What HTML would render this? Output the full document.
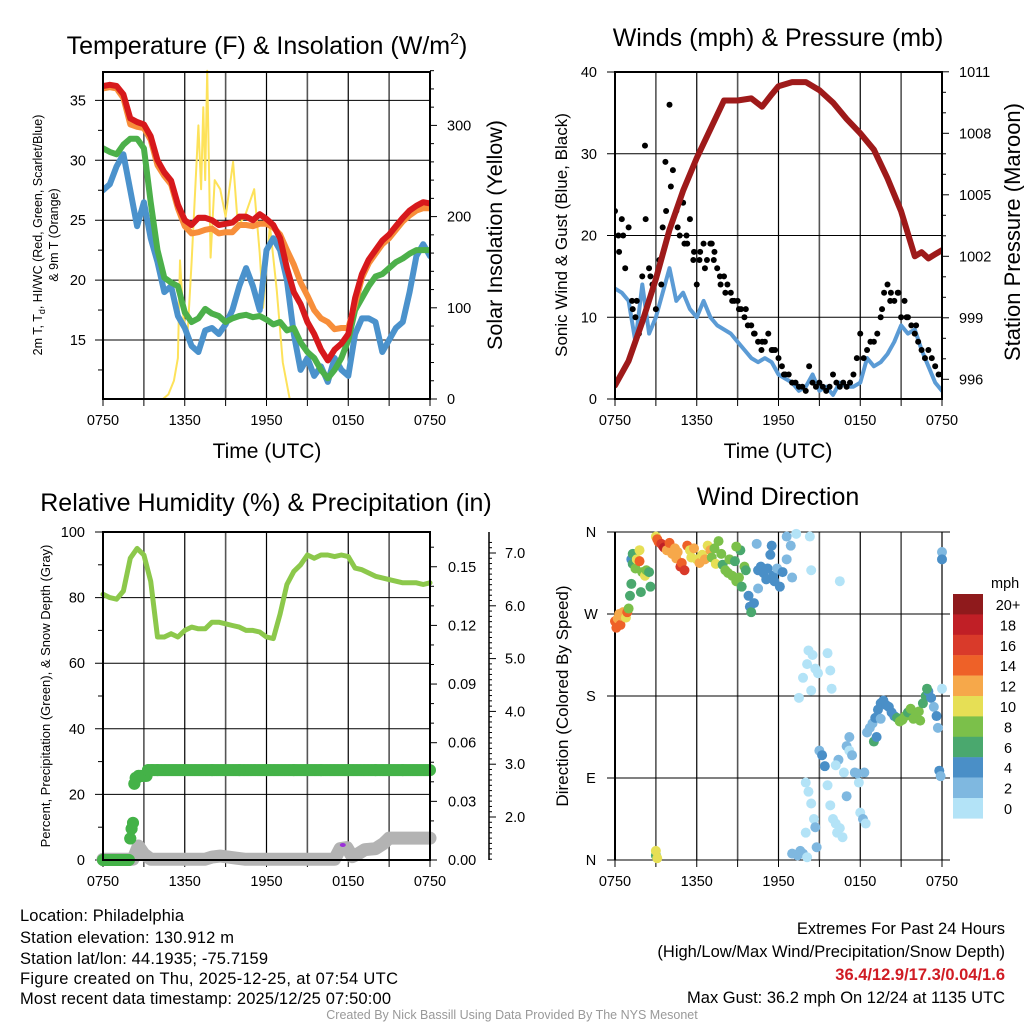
<!DOCTYPE html>
<html><head><meta charset="utf-8"><style>
html,body{margin:0;padding:0;background:#fff;}
svg{display:block;font-family:"Liberation Sans",Arial,sans-serif;}
</style></head><body>
<svg id="chart" width="1024" height="1024" viewBox="0 0 1024 1024" xmlns="http://www.w3.org/2000/svg">
<defs>
<clipPath id="c1"><rect x="103" y="60" width="327" height="339"/></clipPath>
<clipPath id="c2"><rect x="615" y="72" width="327" height="327"/></clipPath>
<clipPath id="c3"><rect x="90" y="532" width="352" height="340"/></clipPath>
</defs>
<g id="g1"></g>
<g id="g2"></g>
<g id="g3"></g>
<g id="g4"></g>
<g font-size="25" text-anchor="middle" fill="#000">
<text x="267" y="54">Temperature (F) &amp; Insolation (W/m<tspan dy="-10" font-size="16">2</tspan><tspan dy="10">)</tspan></text>
<text x="778" y="46">Winds (mph) &amp; Pressure (mb)</text>
<text x="266" y="511">Relative Humidity (%) &amp; Precipitation (in)</text>
<text x="778" y="505">Wind Direction</text>
</g>
<g font-size="16.5" fill="#000">
<text x="20" y="921" textLength="164">Location: Philadelphia</text>
<text x="20" y="943" textLength="214">Station elevation: 130.912 m</text>
<text x="20" y="964" textLength="248">Station lat/lon: 44.1935; -75.7159</text>
<text x="20" y="984" textLength="378">Figure created on Thu, 2025-12-25, at 07:54 UTC</text>
<text x="20" y="1004" textLength="371">Most recent data timestamp: 2025/12/25 07:50:00</text>
</g>
<g font-size="16.5" fill="#000" text-anchor="end">
<text x="1005" y="934">Extremes For Past 24 Hours</text>
<text x="1005" y="957">(High/Low/Max Wind/Precipitation/Snow Depth)</text>
<text x="1005" y="980" fill="#d01c24" font-weight="bold">36.4/12.9/17.3/0.04/1.6</text>
<text x="1005" y="1003">Max Gust: 36.2 mph On 12/24 at 1135 UTC</text>
</g>
<text x="512" y="1019" font-size="12.5" fill="#999" text-anchor="middle">Created By Nick Bassill Using Data Provided By The NYS Mesonet</text>
</svg>
<script>
// ---- data ----
const halfHours = [0,0.5,1,1.5,2,2.5,3,3.5,4,4.5,5,5.5,6,6.5,7,7.5,8,8.5,9,9.5,10,10.5,11,11.5,12,12.5,13,13.5,14,14.5,15,15.5,16,16.5,17,17.5,18,18.5,19,19.5,20,20.5,21,21.5,22,22.5,23,23.5,24];
const xTickLabels = ["0750","1350","1950","0150","0750"];
const tempRed = [36.2,36.3,36.2,35.5,33.5,33.2,33.0,32.0,30.0,29.0,28.3,26.3,25.0,24.6,25.2,25.2,25.0,24.6,24.7,24.8,25.3,25.3,25.0,25.5,25.1,24.6,23.5,21.0,19.0,18.0,16.5,15.5,14.2,13.3,14.2,14.7,15.5,18.5,20.5,21.7,22.5,23.3,23.8,24.5,25.2,25.8,26.2,26.5,26.4];
const tempOrange = [36.0,36.1,36.0,35.2,33.0,32.8,32.7,31.7,29.6,28.7,28.0,26.0,24.5,23.9,24.0,24.2,24.3,23.9,24.0,24.0,24.6,24.6,24.5,24.7,24.7,24.4,23.8,22.5,21.3,19.8,18.7,17.5,16.8,16.5,15.9,16.0,16.0,18.0,20.2,21.4,22.2,23.0,23.5,24.2,24.9,25.4,25.8,26.0,26.0];
const tempGreen = [31.0,30.7,30.5,31.3,31.8,31.8,31.0,26.5,22.5,20.2,19.8,19.5,17.3,16.5,16.8,17.6,17.2,17.0,16.5,16.8,17.0,17.1,16.9,17.0,16.7,16.3,16.5,15.8,16.0,14.8,14.0,13.5,12.5,11.8,12.5,13.5,15.0,17.5,18.5,19.5,20.3,20.5,21.0,21.5,21.8,22.2,22.5,22.5,22.5];
const tempBlue = [27.5,28.0,29.5,30.5,27.5,24.5,26.5,23.5,21.5,19.0,19.5,17.0,16.0,14.5,14.0,15.8,16.0,15.5,16.3,17.5,19.5,21.0,19.5,17.5,22.5,23.5,22.5,20.0,15.5,12.5,13.5,12.0,12.8,11.5,13.5,12.5,12.0,15.5,16.8,16.8,16.5,14.0,15.0,16.0,16.5,19.0,22.0,23.0,22.0];
const solarTimes = [0,4.4,4.8,5.2,5.5,5.65,5.9,6.2,6.5,7.0,7.2,7.36,7.5,7.65,7.9,8.2,8.6,9.0,9.55,9.9,10.4,11.1,11.5,11.75,12.25,12.75,13.2,13.7,24];
const solarValues = [0,0,5,20,45,152,90,70,150,300,230,320,240,360,155,240,230,200,260,190,200,230,160,100,190,120,40,0,0];
const pressureTimes = [0,1,2,3,4,5,6,7,8,9,10,10.8,11.5,12,13,14,15,16,17,18,19,20,21,22,22.5,23,23.5,24];
const pressureValues = [995.7,996.9,998.8,1000.9,1003.3,1005.2,1006.8,1008.2,1009.6,1009.6,1009.7,1009.3,1009.9,1010.3,1010.5,1010.5,1010.1,1009.5,1008.7,1008.0,1007.2,1005.8,1004.2,1002.0,1002.2,1001.9,1002.1,1002.3];
const windSpeed = [13.5,13,12,7,14,8,10,13,16,12,13,11,10,12,10,9,8.5,8,7,6,5,4.5,5,4.5,3,2.5,2,1,1.5,3,1,1.5,0.5,2,1.5,1.5,2,5,4,4.5,5.5,7,9,8,8.5,6,4,2,1];
const gustValues = [23,20,22,16,21,12,10,8,15,22,16,14,11,17,21,23,36,28,23,20,24,20,22,17,14,18,19,17,19,17,16,14,15,14,13,12,12,11,10,9,9,8,7,6,7,8,6,6,5,4,3,3,2,2,1.5,1.5,1,4,2,1.5,2,1.5,1,1.5,3,2,1.5,2,1.5,2,3,5,8,5,6,7,7,8,10,13,14,13,12,13,10,12,10,9,8,7,6,5,6,5,4,3,3];
const gustExtraTimes = [2.2,0.3,1.3,3.7,4.1,5.3,6.6,7.3,9.6,0.6,1.6,2.6,3.4,4.6,5.1,5.8,6.2,7.1,7.7,8.1,8.6,9.1,10.2,10.8,11.6,12.4,19.6,20.2,20.8,21.4,22.1];
const gustExtraValues = [31,18,11,29,26,19,16,18,11,20,12,15,14,21,19,18,17,19,15,13,12,11,8,7,6,3,11,12,13,10,9];
const rhValues = [81,80,79.5,82,92,95,93,85,68,68,69,68,70,71,70.5,70.5,72.5,72.5,72,71.5,71,70,70,69.5,68,67.5,75,84,88,90,93,92,93,93,92.5,93,92.5,89,88.5,87.5,86.5,86,85.5,85,84.5,84.5,84.5,84,84.5];
const precipTimes = [0,0.5,1,1.5,1.9,2.0,2.1,2.2,2.3,2.4,2.6,3.0,3.3,3.6,4,6,8,10,12,14,16,18,20,22,24];
const precipValues = [0,0,0,0,0,0.011,0.016,0.019,0.039,0.042,0.043,0.043,0.046,0.046,0.046,0.046,0.046,0.046,0.046,0.046,0.046,0.046,0.046,0.046,0.046];
const snowTimes = [0,2.2,2.6,3.0,3.5,7.5,8.0,8.6,9.2,9.8,10.4,17.0,17.4,17.9,18.3,18.7,19.2,20.0,20.6,21.0,24];
const snowValues = [1.2,1.2,1.45,1.3,1.2,1.2,1.24,1.26,1.24,1.22,1.2,1.2,1.4,1.42,1.25,1.3,1.38,1.4,1.5,1.6,1.6];
const dirPoints = [[0.0,262,14],[0.1,255,14],[0.2,265,12],[0.3,270,12],[0.4,258,14],[0.5,268,12],[0.6,272,12],[0.8,266,10],[0.9,272,14],[1.0,276,8],[1.2,330,4],[1.3,325,6],[1.3,336,6],[1.5,320,8],[1.6,330,10],[1.8,328,14],[1.8,340,10],[2.0,316,8],[2.2,312,10],[2.3,318,8],[2.5,316,6],[2.6,300,6],[1.9,294,6],[1.2,303,6],[1.1,290,6],[3.0,355,10],[3.1,352,14],[3.2,349,14],[3.4,347,16],[3.5,345,16],[3.6,343,18],[3.8,340,12],[4.0,348,14],[4.2,336,12],[4.4,342,12],[4.5,331,12],[4.6,338,12],[4.8,322,16],[4.9,326,14],[5.1,318,16],[5.3,345,14],[5.5,340,10],[5.6,332,10],[5.8,342,12],[6.0,330,10],[6.2,326,12],[6.4,335,10],[6.6,330,12],[6.8,345,10],[7.0,340,12],[7.1,332,8],[7.3,342,8],[7.4,325,10],[7.6,350,8],[7.8,336,8],[7.9,324,6],[8.1,318,8],[8.3,315,8],[8.4,330,8],[8.6,312,8],[8.8,328,6],[8.9,306,8],[9.1,310,8],[9.3,300,6],[9.5,322,8],[9.6,318,6],[9.2,340,6],[8.9,344,8],[9.8,290,4],[9.9,278,4],[10.0,272,6],[10.2,282,4],[10.5,298,2],[10.5,318,4],[10.7,322,4],[10.9,315,4],[11.1,308,4],[11.2,320,4],[11.4,335,4],[11.6,312,4],[11.7,306,4],[11.9,320,2],[12.1,300,4],[12.3,316,4],[11.5,345,4],[12.6,330,2],[12.6,355,2],[12.9,345,2],[13.0,310,2],[13.3,358,0],[14.3,355,0],[14.4,318,0],[16.5,306,0],[10.4,347,2],[13.5,178,0],[13.8,200,0],[14.1,215,0],[14.5,225,0],[14.7,210,0],[14.9,205,0],[14.2,230,0],[15.6,227,0],[15.8,208,0],[15.9,188,0],[14.4,186,0],[14.0,85,0],[14.2,75,0],[14.4,62,0],[14.6,45,0],[14.7,36,2],[14.0,30,0],[13.6,10,2],[13.8,7,2],[13.4,5,2],[14.1,3,0],[14.8,14,2],[13.0,7,2],[15.0,120,2],[15.2,115,4],[15.4,103,4],[15.6,82,0],[15.8,60,0],[16.0,45,0],[16.2,40,0],[16.5,35,0],[16.7,25,0],[16.3,30,0],[17.0,125,2],[17.2,120,0],[17.4,115,2],[17.6,96,2],[17.9,85,0],[18.0,52,0],[18.2,45,2],[18.4,40,0],[17.8,95,2],[17.2,135,2],[18.5,140,2],[18.7,145,2],[18.9,150,2],[19.1,156,4],[19.3,165,4],[19.5,172,4],[19.7,175,4],[19.9,170,4],[20.1,168,4],[20.3,162,4],[20.5,158,4],[20.7,156,6],[20.9,152,8],[21.1,154,8],[21.3,158,8],[21.5,162,6],[21.7,166,8],[21.9,155,8],[22.1,160,8],[22.3,163,8],[22.4,153,8],[22.8,180,6],[23.0,185,4],[23.2,178,4],[23.4,168,2],[23.6,158,4],[23.7,145,2],[23.8,98,4],[23.9,92,2],[24,338,2],[24,330,4],[24,188,0],[22.6,172,6],[22.9,188,6],[19.0,130,6],[19.2,135,4],[19.5,155,2],[18.3,96,2],[17.0,70,2],[16.8,96,0],[16.4,110,2],[16.2,104,0],[3.0,5,6],[3.0,10,10],[3.1,2,10]];
const speedLabels = ["20+","18","16","14","12","10","8","6","4","2","0"];
const speedColors = ["#8f1a1c","#c01f26","#d93a2a","#ee6128","#f6a84a","#e6df55","#7bc04a","#4aa86e","#4a8fc7","#7fb8e0","#b3e3f7"];

// ---- helpers ----
const NS = "http://www.w3.org/2000/svg";
function mk(tag, attrs, parent){const e=document.createElementNS(NS,tag);for(const k in attrs)e.setAttribute(k,attrs[k]);parent.appendChild(e);return e;}
function txt(s, attrs, parent){const e=mk("text",attrs,parent);e.textContent=s;return e;}
const quarter = gustValues.map((v,i)=>i*0.25);
function linePath(ts, vs, fx, fy){return ts.map((t,i)=>(i?"L":"M")+fx(t).toFixed(1)+","+fy(vs[i]).toFixed(1)).join("");}
function colorFor(s){const idx=Math.min(10,Math.floor(s/2));return speedColors[10-idx];}

function frame(g, x0, x1, y0, y1, name){
  for(let h=0;h<=24;h+=3){
    const x=x0+h/24*(x1-x0);
    const l=mk("line",{x1:x,x2:x,y1:y0,y2:y1,stroke:(h%6===0)?"#000":"#555","stroke-width":(h%6===0)?1.2:1.6},g);
    
    
    const tk=mk("line",{x1:x,x2:x,y1:y1,y2:y1+7,stroke:"#000","stroke-width":1},g);
    
    
  }
  xTickLabels.forEach((s,i)=>{
    const t=txt(s,{x:x0+i*6/24*(x1-x0),y:y1+26,"font-size":14.5,"text-anchor":"middle"},g);
    
    
  });
}
function border(g,x0,x1,y0,y1,name){
  const r=mk("rect",{x:x0,y:y0,width:x1-x0,height:y1-y0,fill:"none",stroke:"#000","stroke-width":2},g);
  
  
}
function hgrid(g,x0,x1,y,label,lx,name,anchor){
  const l=mk("line",{x1:x0-8,x2:x1,y1:y,y2:y,stroke:"#000","stroke-width":1},g);
  
  
  const t=txt(label,{x:lx,y:y+5,"font-size":14.5,"text-anchor":anchor||"end"},g);
  
  
}
function rtick(g,x,y,len,label,lx,name){
  const l=mk("line",{x1:x,x2:x+len,y1:y,y2:y,stroke:"#000","stroke-width":1},g);
  
  
  if(label!==null){
    const t=txt(label,{x:lx,y:y+5,"font-size":14.5},g);
    
    
  }
}

// ---- Panel 1: temperature ----
(function(){
  const g=document.getElementById("g1");
  const x0=103,x1=430,y0=72,y1=399;
  const fx=t=>x0+t/24*(x1-x0);
  const fy=v=>340-(v-15)*11.98;
  const fs=v=>399-v*0.912;
  frame(g,x0,x1,y0,y1,"temp");
  [15,20,25,30,35].forEach(v=>hgrid(g,x0,x1,fy(v),String(v),86,"temp"));
  [12.5,17.5,22.5,27.5,32.5].forEach(v=>{const l=mk("line",{x1:x0-5,x2:x0,y1:fy(v),y2:fy(v),stroke:"#000"},g);});
  for(let v=0;v<=360;v+=20){rtick(g,x1,fs(v),v%100===0?7:4,v%100===0?String(v):null,447,"solar");}
  const gd=mk("g",{"clip-path":"url(#c1)",fill:"none","stroke-linejoin":"round","stroke-linecap":"round"},g);
  let p;
  p=mk("path",{d:linePath(solarTimes,solarValues,fx,fs),stroke:"#fde25a","stroke-width":2},gd);
  
  p=mk("path",{d:linePath(halfHours,tempBlue,fx,fy),stroke:"#4b92cc","stroke-width":6},gd);
  
  p=mk("path",{d:linePath(halfHours,tempGreen,fx,fy),stroke:"#4cb04a","stroke-width":6},gd);
  
  p=mk("path",{d:linePath(halfHours,tempOrange,fx,fy),stroke:"#f78e3a","stroke-width":6},gd);
  
  p=mk("path",{d:linePath(halfHours,tempRed,fx,fy),stroke:"#d7191c","stroke-width":6},gd);
  
  border(g,x0,x1,y0,y1,"temp");
  let t=txt("Time (UTC)",{x:267,y:458,"font-size":21,"text-anchor":"middle"},g);
  
  t=txt("Solar Insolation (Yellow)",{x:502,y:235,"font-size":21.5,"text-anchor":"middle",transform:"rotate(-90 502 235)"},g);
  
  t=mk("text",{x:42,y:235,"font-size":12.5,"text-anchor":"middle",transform:"rotate(-90 42 235)"},g);
  t.innerHTML='2m T, T<tspan font-size="9" dy="3">d</tspan><tspan dy="-3">, HI/WC (Red, Green, Scarlet/Blue)</tspan>';
  
  t=txt("& 9m T (Orange)",{x:58,y:235,"font-size":12.5,"text-anchor":"middle",transform:"rotate(-90 58 235)"},g);
  
})();

// ---- Panel 2: winds ----
(function(){
  const g=document.getElementById("g2");
  const x0=615,x1=942,y0=72,y1=399;
  const fx=t=>x0+t/24*(x1-x0);
  const fy=v=>399-v*8.175;
  const fp=v=>379.3-(v-996)*20.5;
  frame(g,x0,x1,y0,y1,"wind");
  [0,10,20,30,40].forEach(v=>hgrid(g,x0,x1,fy(v),String(v),597,"wind"));
  for(let v=996;v<=1011;v++){rtick(g,x1,fp(v),(v-996)%3===0?7:4,(v-996)%3===0?String(v):null,959,"pressure");}
  const gd=mk("g",{"clip-path":"url(#c2)","stroke-linejoin":"round","stroke-linecap":"round"},g);
  let p=mk("path",{d:linePath(halfHours,windSpeed,fx,fy),stroke:"#5b9bd5","stroke-width":4,fill:"none"},gd);
  
  gustValues.forEach((v,i)=>{const c=mk("circle",{cx:fx(quarter[i]),cy:fy(v),r:3,fill:"#000"},gd);});
  gustExtraValues.forEach((v,i)=>{const c=mk("circle",{cx:fx(gustExtraTimes[i]),cy:fy(v),r:3,fill:"#000"},gd);});
  p=mk("path",{d:linePath(pressureTimes,pressureValues,fx,fp),stroke:"#9e1a1a","stroke-width":6,fill:"none"},gd);
  
  border(g,x0,x1,y0,y1,"wind");
  let t=txt("Time (UTC)",{x:778,y:458,"font-size":21,"text-anchor":"middle"},g);
  
  t=txt("Sonic Wind & Gust (Blue, Black)",{x:567,y:235,"font-size":17,"text-anchor":"middle",transform:"rotate(-90 567 235)"},g);
  
  t=txt("Station Pressure (Maroon)",{x:1020,y:232,"font-size":22,"text-anchor":"middle",transform:"rotate(-90 1020 232)"},g);
  
})();

// ---- Panel 3: humidity ----
(function(){
  const g=document.getElementById("g3");
  const x0=103,x1=430,y0=532,y1=860;
  const fx=t=>x0+t/24*(x1-x0);
  const fy=v=>860-v*3.28;
  const fpr=v=>860-v*1955;
  const fsn=v=>817-(v-2)*52.8;
  frame(g,x0,x1,y0,y1,"rh");
  [0,20,40,60,80,100].forEach(v=>hgrid(g,x0,x1,fy(v),String(v),85,"rh"));
  [10,30,50,70,90].forEach(v=>{const l=mk("line",{x1:x0-5,x2:x0,y1:fy(v),y2:fy(v),stroke:"#000"},g);});
  for(let i=0;i<=16;i++){const v=i*0.01;rtick(g,x1,fpr(v),i%3===0?7:4,i%3===0?v.toFixed(2):null,448,"precip");}
  let ax=mk("line",{x1:489,x2:489,y1:532,y2:860,stroke:"#000","stroke-width":1.5},g);
  
  for(let i=12;i<=72;i++){const v=i/10;if(fsn(v)>860||fsn(v)<532)continue;rtick(g,489,fsn(v),i%10===0?7:3,i%10===0?v.toFixed(1):null,505,"snow");}
  const gd=mk("g",{"clip-path":"url(#c3)","stroke-linejoin":"round","stroke-linecap":"round",fill:"none"},g);
  let p=mk("path",{d:linePath(snowTimes,snowValues,fx,fsn),stroke:"#b3b3b3","stroke-width":13},gd);
  
  const pt=[];for(let t=0;t<=24;t+=0.1)pt.push(+t.toFixed(2));
  pt.forEach(t=>{let k=precipTimes.findIndex(x=>x>t);if(k<0)k=precipTimes.length;const v=precipValues[Math.max(0,k-1)];
    const c=mk("circle",{cx:fx(t),cy:fpr(v),r:6,fill:"#44b248"},gd);});
  precipTimes.forEach((t,i)=>{const c=mk("circle",{cx:fx(t),cy:fpr(precipValues[i]),r:6,fill:"#44b248"},gd);});
  p=mk("path",{d:linePath(halfHours,rhValues,fx,fy),stroke:"#8cc84b","stroke-width":5},gd);
  
  const pc=mk("ellipse",{cx:fx(17.6),cy:845,rx:3,ry:2,fill:"#9b30d9"},gd);
  
  border(g,x0,x1,y0,y1,"rh");
  let t=txt("Percent, Precipitation (Green), & Snow Depth (Gray)",{x:50,y:696,"font-size":13,"text-anchor":"middle",transform:"rotate(-90 50 696)"},g);
  
})();

// ---- Panel 4: wind direction ----
(function(){
  const g=document.getElementById("g4");
  const x0=615,x1=942,y0=532,y1=860;
  const fx=t=>x0+t/24*(x1-x0);
  const fy=d=>860-d*(328/360);
  frame(g,x0,x1,y0,y1,"dir");
  [["N",0],["E",90],["S",180],["W",270],["N",360]].forEach(([s,d])=>{
    const l=mk("line",{x1:x0-8,x2:x1+8,y1:fy(d),y2:fy(d),stroke:"#000","stroke-width":1},g);
    
    const t=txt(s,{x:591,y:fy(d)+5,"font-size":14.5,"text-anchor":"middle"},g);
    
  });
  const l=mk("line",{x1:x0,x2:x0,y1:y0,y2:y1,stroke:"#000","stroke-width":2},g);
  
  dirPoints.forEach(p=>{const c=mk("circle",{cx:fx(p[0]),cy:fy(p[1]),r:5,fill:colorFor(p[2])},g);
    });
  let t=txt("Direction (Colored By Speed)",{x:568,y:696,"font-size":17,"text-anchor":"middle",transform:"rotate(-90 568 696)"},g);
  
  t=txt("mph",{x:991,y:588,"font-size":14.5},g);
  
  speedLabels.forEach((s,i)=>{
    const r=mk("rect",{x:953,y:594+i*20.4,width:30,height:20.6,fill:speedColors[i]},g);
    
    const tt=txt(s,{x:1008,y:594+i*20.4+16,"font-size":14.5,"text-anchor":"middle"},g);
    
  });
})();
</script>
</body></html>
